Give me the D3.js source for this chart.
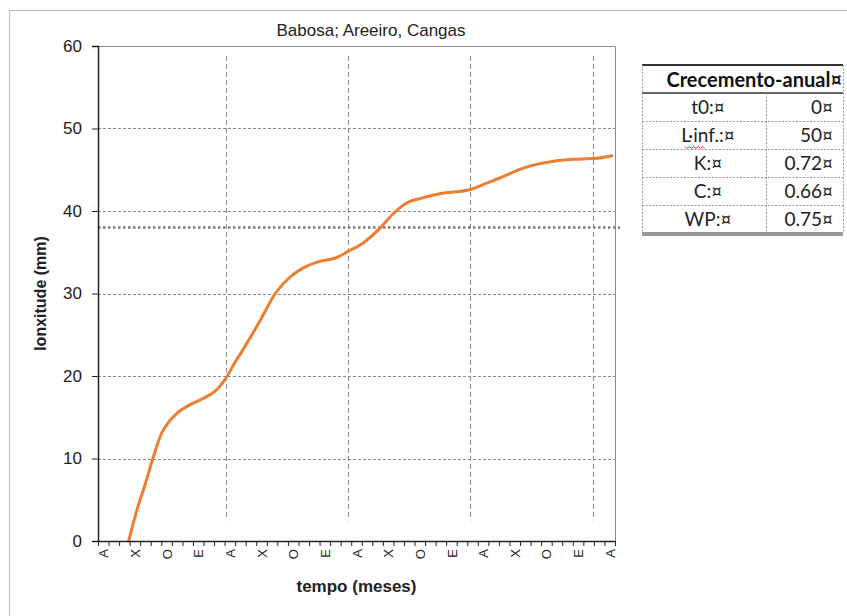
<!DOCTYPE html>
<html><head><meta charset="utf-8">
<script src="https://cdn.jsdelivr.net/npm/d3@7"></script>
<style>body{margin:0;background:#fff}svg{display:block}</style>
</head><body><svg id="c" width="847" height="616"></svg>
<script>
// ---- data ----
const monthLabels = ["A","X","O","E","A","X","O","E","A","X","O","E","A","X","O","E","A"];
const labelMonths = [0,3,6,9,12,15,18,21,24,27,30,33,36,39,42,45,48];
const curveMonths = [2.4,3.2,4.0,4.7,5.5,6.2,7.0,8.2,9.5,10.8,11.6,12.6,13.0,14.9,16.3,17.7,19.1,20.5,22.0,23.2,24.6,26.2,27.5,28.8,30.0,31.9,34.8,36.0,37.6,39.8,43.0,45.2,46.8,48.2];
const curveLength = [0,3.8,7.0,10.0,13.0,14.4,15.5,16.5,17.3,18.4,19.7,21.9,22.7,26.8,30.0,32.0,33.2,33.9,34.3,35.1,36.1,37.9,39.7,41.0,41.5,42.1,42.6,43.2,44.0,45.2,46.1,46.3,46.4,46.7];
const yearMarks = [11.6,23.2,34.8,46.4];
const yearMarkRange = [2.5,58.8];
const refLength = 38;
const yTicks = [0,10,20,30,40,50,60];
const tableHeader = "Crecemento-anual¤";
const tableKeys = ["t0:¤","L·inf.:¤","K:¤","C:¤","WP:¤"];
const tableVals = ["0¤","50¤","0.72¤","0.66¤","0.75¤"];
const title = "Babosa; Areeiro, Cangas";
const xTitle = "tempo (meses)";
const yTitle = "lonxitude (mm)";

// ---- layout ----
const svg = d3.select("#c");
const L = 98, R = 615, T = 46, B = 541;
const x = d3.scaleLinear().domain([-0.5,48.5]).range([L,R]);
const y = d3.scaleLinear().domain([0,60]).range([B,T]);
const font = "'Liberation Sans', Arial, sans-serif";

// outer chart border
svg.append("rect").attr("x",9.5).attr("y",10.5).attr("width",850).attr("height",620)
  .attr("fill","none").attr("stroke","#b8b8b8").attr("stroke-width",1);

// plot frame (top/right)
svg.append("path").attr("d",`M${L},${T+0.5}H${R+0.5}V${B}`).attr("fill","none").attr("stroke","#8c8c8c").attr("stroke-width",1);

// horizontal gridlines
svg.append("g").selectAll("line").data(yTicks.filter(v=>v>0&&v<60)).join("line")
  .attr("x1",L).attr("x2",R).attr("y1",d=>Math.round(y(d))+0.5).attr("y2",d=>Math.round(y(d))+0.5)
  .attr("stroke","#8a8a8a").attr("stroke-width",1).attr("stroke-dasharray","3,2");

// vertical year marks
svg.append("g").selectAll("line").data(yearMarks).join("line")
  .attr("x1",d=>Math.round(x(d))+0.5).attr("x2",d=>Math.round(x(d))+0.5)
  .attr("y1",y(yearMarkRange[1])).attr("y2",y(yearMarkRange[0]))
  .attr("stroke","#8a8a8a").attr("stroke-width",1).attr("stroke-dasharray","5,3");

// reference dotted line
svg.append("line").attr("x1",L).attr("x2",R+5).attr("y1",y(refLength)).attr("y2",y(refLength))
  .attr("stroke","#7a7a7a").attr("stroke-width",2.5).attr("stroke-dasharray","2.5,2.5");

// curve
const pts = curveMonths.map((m,i)=>[m,curveLength[i]]);
svg.append("path").datum(pts)
  .attr("d",d3.line().x(d=>x(d[0])).y(d=>y(d[1])).curve(d3.curveMonotoneX))
  .attr("fill","none").attr("stroke","#ED7D31").attr("stroke-width",3).attr("stroke-linecap","round");

// y axis
const ya = svg.append("g").attr("transform",`translate(${L},0)`)
  .call(d3.axisLeft(y).tickValues(yTicks).tickSize(6).tickPadding(10).tickFormat(d3.format("d")));
ya.select(".domain").attr("stroke","#222").attr("stroke-width",1.5);
ya.selectAll(".tick line").attr("stroke","#222");
ya.selectAll("text").attr("font-family",font).attr("font-size",17).attr("fill","#222");

// x axis: minor ticks at category boundaries
const minor = d3.range(-0.5,48.6,1);
const xa = svg.append("g").attr("transform",`translate(0,${B})`)
  .call(d3.axisBottom(x).tickValues(minor).tickSize(5).tickFormat(""));
xa.select(".domain").attr("stroke","#222").attr("stroke-width",1.5).attr("d",`M${L},0.5H${R+0.5}`);
xa.selectAll(".tick line").attr("stroke","#222");

// x labels rotated
const xl = svg.append("g").attr("transform",`translate(0,${B})`)
  .call(d3.axisBottom(x).tickValues(labelMonths).tickSize(0).tickFormat((d,i)=>monthLabels[i]));
xl.select(".domain").remove();
xl.selectAll("text").attr("font-family",font).attr("font-size",13).attr("fill","#222")
  .attr("text-anchor","end").attr("transform","rotate(-90)")
  .attr("x",-8).attr("y",0).attr("dy","0.35em");

// titles
svg.append("text").attr("x",371).attr("y",36).attr("text-anchor","middle")
  .attr("font-family",font).attr("font-size",17).attr("fill","#222").text(title);
svg.append("text").attr("x",(L+R)/2).attr("y",592).attr("text-anchor","middle")
  .attr("font-family",font).attr("font-size",17).attr("font-weight","bold").attr("fill","#222").text(xTitle);
svg.append("text").attr("transform",`translate(46,${(T+B)/2}) rotate(-90)`).attr("text-anchor","middle")
  .attr("font-family",font).attr("font-size",16).attr("font-weight","bold").attr("fill","#222").text(yTitle);

// ---- table ----
const tf = "Lato, 'Noto Sans', sans-serif";
const tL = 642, tR = 843, tC = 766, tTop = 65, hB = 93;
const rowH = 28;
const tb = svg.append("g");
tb.append("line").attr("x1",tL).attr("x2",tR).attr("y1",tTop).attr("y2",tTop).attr("stroke","#333").attr("stroke-width",2);
tb.append("line").attr("x1",tL).attr("x2",tR).attr("y1",hB).attr("y2",hB).attr("stroke","#333").attr("stroke-width",1.5);
const bottomY = hB + rowH*tableKeys.length;
tb.append("line").attr("x1",tL).attr("x2",tR).attr("y1",bottomY).attr("y2",bottomY).attr("stroke","#333").attr("stroke-width",1);
tb.append("line").attr("x1",tL).attr("x2",tR).attr("y1",bottomY+2).attr("y2",bottomY+2).attr("stroke","#333").attr("stroke-width",1);
tb.selectAll(".rl").data(d3.range(1,tableKeys.length)).join("line")
  .attr("x1",tL).attr("x2",tR).attr("y1",i=>hB+i*rowH+0.5).attr("y2",i=>hB+i*rowH+0.5)
  .attr("stroke","#999").attr("stroke-dasharray","2,1.5");
[tL,tC,tR].forEach((xx,j)=>{
  tb.append("line").attr("x1",xx+0.5).attr("x2",xx+0.5).attr("y1",j===1?hB:tTop).attr("y2",bottomY)
    .attr("stroke","#999").attr("stroke-dasharray","2,1.5");
});
tb.append("text").attr("x",tR-1).attr("y",tTop+22).attr("text-anchor","end")
  .attr("font-family",tf).attr("font-size",20).attr("font-weight","bold").attr("fill","#111").text(tableHeader);
tableKeys.forEach((k,i)=>{
  const cy = hB + i*rowH + rowH/2 + 7;
  tb.append("text").attr("x",(tL+tC)/2+4).attr("y",cy).attr("text-anchor","middle")
    .attr("font-family",tf).attr("font-size",19).attr("fill","#222").text(k);
  tb.append("text").attr("x",tR-10).attr("y",cy).attr("text-anchor","end")
    .attr("font-family",tf).attr("font-size",19).attr("fill","#222").text(tableVals[i]);
});
// spell-check squiggle under "inf"
const sq = d3.range(0,10).map(i=>[685+i*2.2, 147 + (i%2?1.5:-0.5)]);
tb.append("path").attr("d",d3.line()(sq)).attr("fill","none").attr("stroke","#e03030").attr("stroke-width",1);
</script></body></html>
